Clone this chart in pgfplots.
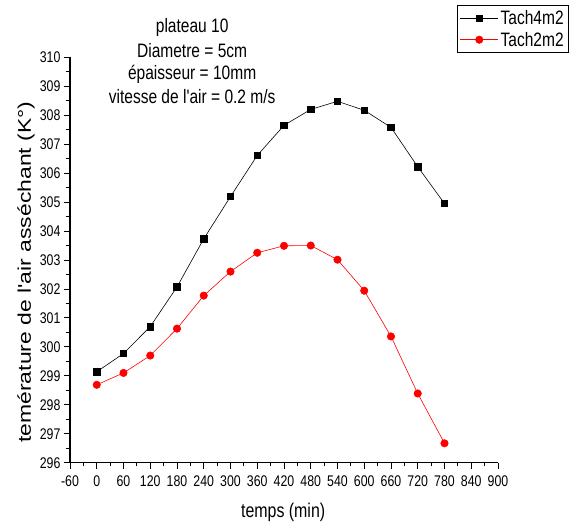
\documentclass[border=0pt]{standalone}
\usepackage{fontspec}
\setmainfont{Liberation Sans}[FakeStretch=0.8, Ligatures=TeXOff]
\newfontfamily\widefont{Liberation Sans}[Ligatures=TeXOff]
\usepackage{graphicx}
\usepackage{pgfplots}
\pgfplotsset{compat=1.18}
\begin{document}
\begin{tikzpicture}
\path[use as bounding box] (-70bp,-61.3bp) rectangle (500bp,462.7bp);
\begin{axis}[
  at={(0,0)}, anchor=south west,
  scale only axis, width=428bp, height=405.4bp,
  xmin=-60, xmax=900, ymin=296, ymax=310,
  axis x line*=bottom, axis y line*=left,
  axis line style={line width=1.2pt, -},
  xtick={-60,0,...,900}, ytick={296,...,310},
  minor x tick num=1, minor y tick num=1,
  tick align=outside, tick style={black, line width=0.9pt},
  major tick length=6bp, minor tick length=3.5bp,
  /pgf/number format/assume math mode=true,
  /pgf/number format/1000 sep={},
  tick label style={font=\fontsize{15.5}{17}\selectfont},
  xticklabel style={yshift=-3.5bp},
  legend style={at={(1.166,1.129)}, anchor=north east, draw=black, line width=0.8pt,
    font=\fontsize{19.5}{21}\selectfont, inner xsep=3bp, inner ysep=3bp, row sep=2bp},
  legend cell align=left,
  legend image code/.code={\draw[mark repeat=2,mark phase=2,#1] plot coordinates {(0bp,0bp) (19bp,0bp) (38bp,0bp)};},
  clip=false,
]
\addplot[black, mark=square*, mark size=3.2bp, line width=0.6pt] coordinates {
(0,299.14) (60,299.77) (120,300.7) (180,302.07) (240,303.73) (300,305.19) (360,306.61)
(420,307.65) (480,308.2) (540,308.48) (600,308.17) (660,307.58) (720,306.22) (780,304.95)};
\addlegendentry{Tach4m2}
\addplot[red, mark=*, mark size=3.7bp, line width=0.6pt] coordinates {
(0,298.69) (60,299.1) (120,299.7) (180,300.63) (240,301.77) (300,302.6) (360,303.25)
(420,303.49) (480,303.5) (540,303.01) (600,301.94) (660,300.36) (720,298.39) (780,296.67)};
\addlegendentry{Tach2m2}
\begin{scope}[every node/.style={anchor=base, font=\fontsize{19.5}{22}\selectfont}]
\node at (axis cs:214,310.84) {plateau 10};
\node at (axis cs:214,310.01) {Diametre = 5cm};
\node at (axis cs:214,309.22) {épaisseur = 10mm};
\node at (axis cs:214,308.42) {vitesse de l'air = 0.2 m/s};
\end{scope}
\node[anchor=base, font=\fontsize{20}{22}\selectfont] at ([yshift=-55bp]rel axis cs:0.498,0) {temps (min)};
\node[anchor=base, rotate=90, font=\widefont\fontsize{23}{25}\selectfont] at ([xshift=-39bp]rel axis cs:0,0.47) {\scalebox{1}[0.8]{temérature de l'air asséchant (K°)}};
\end{axis}
\end{tikzpicture}
\end{document}
